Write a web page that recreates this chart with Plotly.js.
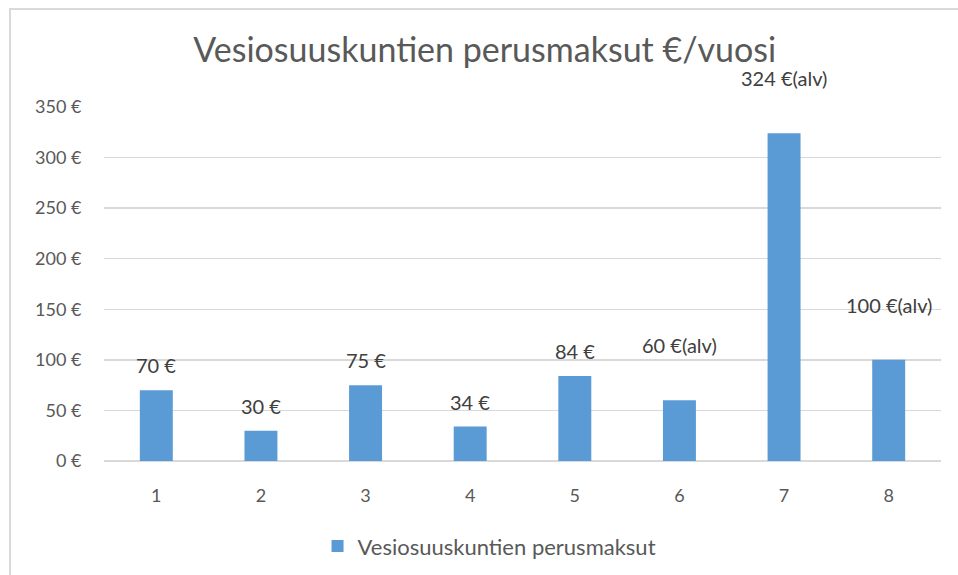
<!DOCTYPE html>
<html>
<head>
<meta charset="utf-8">
<script src="https://cdn.plot.ly/plotly-3.0.1.min.js"></script>
<style>
  html, body { margin: 0; padding: 0; background: #ffffff; }
  #frame { position: absolute; left: 9px; top: 8px; width: 960px; height: 580px;
           border-left: 2px solid #d9d9d9; border-top: 2px solid #d9d9d9; }
  #chart { position: absolute; left: 0; top: 0; width: 958px; height: 575px; }
</style>
</head>
<body>
<div id="frame"></div>
<div id="chart"></div>
<script>
const categories = ['1', '2', '3', '4', '5', '6', '7', '8'];
const values = [70, 30, 75, 34, 84, 60, 324, 100];
const labels = ['70 €', '30 €', '75 €', '34 €', '84 €', '60 €(alv)', '324 €(alv)', '100 €(alv)'];
const seriesName = 'Vesiosuuskuntien perusmaksut';
const titleText = 'Vesiosuuskuntien perusmaksut €/vuosi';
const yTickVals = [0, 50, 100, 150, 200, 250, 300, 350];
const yTickText = ['0 €', '50 €', '100 €', '150 €', '200 €', '250 €', '300 €', '350 €'];

const FONT = 'Lato, "Open Sans", sans-serif';
const TXT = '#595959';

const trace = {
  type: 'bar',
  x: categories,
  y: values,
  name: seriesName,
  marker: { color: '#5b9bd5' },
  width: 0.315,
  hoverinfo: 'none',
  showlegend: true
};

// category axis: annotations addressed by category index
const annotations = categories.map((c, i) => ({
  x: i, y: values[i], xref: 'x', yref: 'y',
  text: labels[i], showarrow: false,
  yanchor: 'middle', xanchor: 'center',
  yshift: labels[i].indexOf('(alv)') >= 0 ? 55 : 25,
  font: { family: FONT, size: 20, color: '#404040' }
}));

const layout = {
  width: 958, height: 575,
  paper_bgcolor: 'rgba(0,0,0,0)',
  plot_bgcolor: 'rgba(0,0,0,0)',
  margin: { l: 104, r: 17, t: 107, b: 114 },
  title: {
    text: titleText,
    font: { family: FONT, size: 34, color: TXT },
    xref: 'container', x: 0.506, xanchor: 'center',
    yref: 'container', y: 0.913, yanchor: 'middle'
  },
  xaxis: {
    type: 'category',
    range: [-0.5, 7.5],
    showgrid: false, zeroline: false, showline: false,
    ticks: 'outside', ticklen: 18, tickcolor: 'rgba(0,0,0,0)',
    tickfont: { family: FONT, size: 18, color: TXT },
    fixedrange: true
  },
  yaxis: {
    range: [0, 350],
    tickvals: yTickVals, ticktext: yTickText,
    showgrid: true, gridcolor: '#d9d9d9', gridwidth: 1.5,
    zeroline: true, zerolinecolor: '#d9d9d9', zerolinewidth: 1.5,
    showline: false,
    ticks: 'outside', ticklen: 18, tickcolor: 'rgba(0,0,0,0)',
    tickfont: { family: FONT, size: 18, color: TXT },
    fixedrange: true
  },
  showlegend: true,
  legend: {
    orientation: 'h',
    xref: 'container', x: 0.511, xanchor: 'center',
    yref: 'container', y: 0.05, yanchor: 'middle',
    font: { family: FONT, size: 22, color: TXT },
    itemwidth: 30
  },
  annotations: annotations
};

Plotly.newPlot('chart', [trace], layout, { staticPlot: true, displayModeBar: false });
</script>
</body>
</html>
